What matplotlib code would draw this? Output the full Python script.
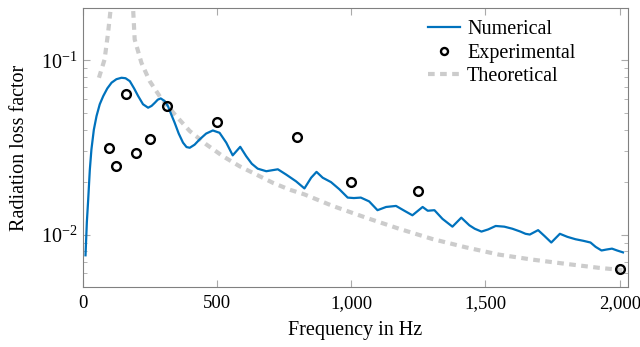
import matplotlib
matplotlib.use('Agg')
import matplotlib.pyplot as plt
from matplotlib.ticker import FuncFormatter, LogLocator, MultipleLocator
import numpy as np

# Daten
num_freq = [11, 16, 21, 27, 33, 42, 52, 64, 77, 92, 108, 126, 145, 160, 176, 192,
            207, 225, 244, 257, 269, 280, 291, 305, 318, 330, 343, 358, 374, 387,
            399, 417, 436, 460, 485, 510, 535, 559, 587, 609, 630, 652, 684, 727,
            758, 795, 826, 851, 871, 894, 925, 956, 987, 1010, 1036, 1067, 1098,
            1130, 1167, 1198, 1228, 1266, 1285, 1310, 1340, 1377, 1410, 1440, 1460,
            1485, 1510, 1538, 1570, 1600, 1630, 1649, 1665, 1696, 1720, 1745, 1777,
            1805, 1835, 1865, 1891, 1910, 1932, 1950, 1971, 1990, 2012]
num_val = [0.0076, 0.0118, 0.0159, 0.0235, 0.0308, 0.0400, 0.0479, 0.0560, 0.0624,
           0.0690, 0.0745, 0.0780, 0.0795, 0.0790, 0.0760, 0.0690, 0.0624, 0.0560,
           0.0535, 0.0548, 0.0571, 0.0595, 0.0605, 0.0585, 0.0546, 0.0490, 0.0438,
           0.0380, 0.0337, 0.0318, 0.0315, 0.0328, 0.0352, 0.0380, 0.0396, 0.0384,
           0.0337, 0.0285, 0.0319, 0.0282, 0.0255, 0.0239, 0.0231, 0.0237, 0.0221,
           0.0202, 0.0184, 0.0212, 0.0229, 0.0212, 0.0200, 0.0182, 0.0163, 0.0162,
           0.0163, 0.0155, 0.0138, 0.0144, 0.0146, 0.0137, 0.0129, 0.0144, 0.0137,
           0.0138, 0.0123, 0.0111, 0.0125, 0.0113, 0.0108, 0.0104, 0.0107, 0.0112,
           0.0111, 0.0108, 0.0104, 0.0101, 0.0100, 0.0106, 0.0098, 0.0090, 0.0101,
           0.0097, 0.0094, 0.0092, 0.0090, 0.0085, 0.0081, 0.0082, 0.0083, 0.0081,
           0.0079]

exp_freq = [100, 125, 160, 200, 250, 315, 500, 800, 1000, 1250, 2000]
exp_val = [0.0315, 0.0247, 0.0640, 0.0293, 0.0355, 0.0550, 0.0440, 0.0364, 0.0200,
           0.0179, 0.00635]

# theoretische Kurve: zwei Äste (Singularität dazwischen), NaN trennt sie
theo_freq = [61, 82, 95, 105, 112, np.nan, 183, 188, 194, 219, 250, 291, 343, 399,
             461, 522, 584, 647, 709, 771, 826, 931, 1055, 1178, 1302, 1426, 1550,
             1674, 1798, 1922, 2010]
theo_val = [0.0795, 0.1013, 0.144, 0.20, 0.30, np.nan, 0.30, 0.20, 0.132, 0.097,
            0.076, 0.061, 0.049, 0.0393, 0.0329, 0.0282, 0.0247, 0.0221, 0.0198,
            0.0181, 0.0170, 0.0146, 0.0125, 0.0108, 0.00943, 0.00845, 0.00767,
            0.00718, 0.00679, 0.00644, 0.00625]

plt.rcParams['font.family'] = ['Liberation Serif', 'DejaVu Serif']
plt.rcParams['mathtext.fontset'] = 'stix'
plt.rcParams['font.size'] = 14.5

fig = plt.figure(figsize=(6.4, 3.47), dpi=100)
ax = fig.add_axes([0.129, 0.173, 0.852, 0.804])

ax.plot(num_freq, num_val, '-', color='#0072BD', lw=1.6, label='Numerical', zorder=3)
ax.plot(exp_freq, exp_val, 'o', mfc='none', mec='black', mew=1.7, ms=6.3,
        label='Experimental', zorder=4, clip_on=False)
ax.plot(theo_freq, theo_val, '--', color='#cccccc', lw=3, dashes=(1.6, 1.3),
        label='Theoretical', zorder=2)

ax.set_yscale('log')
ax.set_xlim(0, 2030)
ax.set_ylim(0.005, 0.2)
ax.xaxis.set_major_locator(MultipleLocator(500))
ax.xaxis.set_major_formatter(FuncFormatter(lambda v, p: '{:,.0f}'.format(v)))
ax.yaxis.set_major_locator(LogLocator(base=10))
ax.yaxis.set_minor_locator(LogLocator(base=10, subs=np.arange(2, 10)))

for s in ax.spines.values():
    s.set_color('#808080')
ax.tick_params(which='both', direction='in', top=True, right=True, color='#aaaaaa',
               labelcolor='black', labelsize=13.5)
ax.tick_params(axis='y', labelsize=14.5)
ax.tick_params(which='major', length=5)
ax.tick_params(which='minor', length=3)
ax.tick_params(axis='x', pad=6)

ax.set_xlabel('Frequency in Hz', labelpad=6)
ax.set_ylabel('Radiation loss factor', labelpad=9)

ax.legend(loc='upper right', frameon=False, handlelength=1.6, borderaxespad=0.2,
          labelspacing=0.22, handletextpad=0.35, markerscale=0.8,
          bbox_to_anchor=(0.926, 1.0))

fig.savefig('out.png', dpi=100)
